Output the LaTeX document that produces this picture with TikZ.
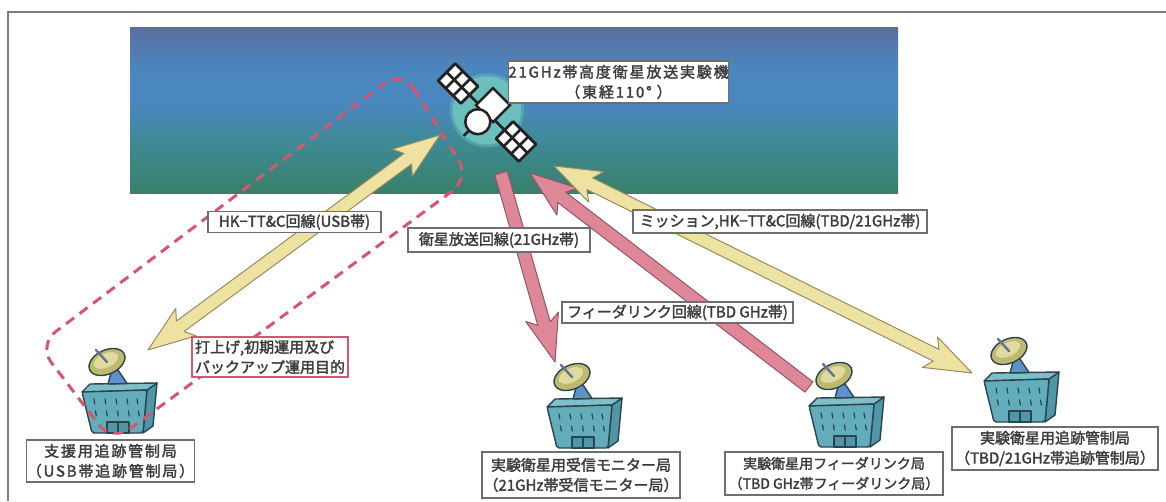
\documentclass[tikz,border=0pt]{standalone}
\usepackage{fontspec}
\setmainfont{Noto Sans CJK JP}
\newfontfamily\lblfont[FakeBold=2]{Noto Sans CJK JP}
\newfontfamily\lblfontsp[FakeBold=2,LetterSpace=12]{Noto Sans CJK JP}
\usetikzlibrary{calc}

% palette
\definecolor{skytop}{RGB}{92,110,160}
\definecolor{skyblue}{RGB}{74,135,190}
\definecolor{skyteal}{RGB}{62,138,148}
\definecolor{skybot}{RGB}{56,128,106}
\definecolor{glow}{RGB}{110,195,190}
\definecolor{yfill}{RGB}{238,226,162}
\definecolor{ydraw}{RGB}{150,140,95}
\definecolor{pfill}{RGB}{222,135,152}
\definecolor{pdraw}{RGB}{150,85,100}
\definecolor{loopred}{RGB}{214,86,114}
\definecolor{ink}{RGB}{60,60,60}
\definecolor{boxgray}{RGB}{110,110,110}
\definecolor{frameg}{RGB}{125,125,125}
\definecolor{bldg}{RGB}{98,172,188}
\definecolor{bldgside}{RGB}{80,150,168}
\definecolor{bldgroof}{RGB}{125,192,204}
\definecolor{bldgline}{RGB}{40,70,75}
\definecolor{mountc}{RGB}{95,145,205}
\definecolor{dishout}{RGB}{190,185,110}
\definecolor{dishin}{RGB}{222,218,160}
\definecolor{hornc}{RGB}{105,115,150}
\definecolor{satline}{RGB}{35,35,35}

\pgfdeclareverticalshading{skyshade}{100bp}{color(0bp)=(skybot); color(25bp)=(skybot); color(40bp)=(skyteal); color(52bp)=(skyblue); color(62bp)=(skyblue); color(75bp)=(skytop); color(100bp)=(skytop)}

% broad arrow geometry
\def\headlen{40pt}
\def\barblen{47pt}
\def\headhw{17pt}
\def\shafthw{6.5pt}

% one-headed broad arrow: style, tail, tip, prefix
\newcommand\sglarrow[4]{%
  \coordinate (#4-b) at ($(#3)!\headlen!(#2)$);
  \coordinate (#4-w) at ($(#3)!\barblen!(#2)$);
  \draw[#1] ($(#2)!\shafthw!90:(#3)$) -- ($(#4-b)!\shafthw!90:(#3)$)
    -- ($(#4-w)!\headhw!90:(#3)$) -- (#3) -- ($(#4-w)!\headhw!-90:(#3)$)
    -- ($(#4-b)!\shafthw!-90:(#3)$) -- ($(#2)!\shafthw!-90:(#3)$) -- cycle;
}
% two-headed broad arrow: style, end A, end B, prefix
\newcommand\dblarrow[4]{%
  \coordinate (#4-ba) at ($(#2)!\headlen!(#3)$);
  \coordinate (#4-wa) at ($(#2)!\barblen!(#3)$);
  \coordinate (#4-bb) at ($(#3)!\headlen!(#2)$);
  \coordinate (#4-wb) at ($(#3)!\barblen!(#2)$);
  \draw[#1] (#2) -- ($(#4-wa)!\headhw!90:(#3)$) -- ($(#4-ba)!\shafthw!90:(#3)$)
    -- ($(#4-bb)!\shafthw!-90:(#2)$) -- ($(#4-wb)!\headhw!-90:(#2)$) -- (#3)
    -- ($(#4-wb)!\headhw!90:(#2)$) -- ($(#4-bb)!\shafthw!90:(#2)$)
    -- ($(#4-ba)!\shafthw!-90:(#3)$) -- ($(#4-wa)!\headhw!-90:(#3)$) -- cycle;
}

\tikzset{
  frameline/.style={draw=frameg, line width=2pt},
  yarrow/.style={fill=yfill, draw=ydraw, line width=1pt, line join=round},
  parrow/.style={fill=pfill, draw=pdraw, line width=1pt, line join=round},
  loopline/.style={draw=loopred, line width=3pt, dash pattern=on 10pt off 7pt, rounded corners=22pt},
  lbl/.style={draw=boxgray, line width=1.2pt, fill=white, text=ink,
    font=\lblfont\fontsize{15pt}{20pt}\selectfont, inner sep=0pt, align=center},
  redlbl/.style={lbl, draw=loopred, align=left},
  outl/.style={draw=bldgline, line width=1.4pt, line join=round},
  win/.style={draw=bldgline, line width=1.2pt, line cap=round},
  station/.pic={
    % side face, roof and front face of the building
    \filldraw[outl, fill=bldgside] (29,-43) -- (39,-50) -- (35,-7) -- (25,0) -- cycle;
    \filldraw[outl, fill=bldgroof] (-36,-41) -- (-28,-49) -- (39,-50) -- (29,-43) -- cycle;
    \filldraw[outl, fill=bldg, rounded corners=2pt] (-36,-41) -- (29,-43) -- (25,0) -- (-26,0) -- cycle;
    % windows
    \foreach \wx in {-24,-13,-2,9,19} {
      \draw[win] (\wx,-34) -- (\wx+0.8,-29);
      \draw[win] (\wx+1.5,-22) -- (\wx+2.3,-17);
    }
    % entrance
    \filldraw[outl, fill=bldgside] (-11,-11) rectangle (11,0);
    \draw[win] (0,-11) -- (0,0);
    % dish mount and reflector
    \filldraw[outl, fill=mountc] (-10,-49) -- (-6,-64) -- (0,-63) -- (9,-49.5) -- cycle;
    \filldraw[outl, fill=dishout] (-11,-71) ellipse [x radius=19, y radius=12, rotate=25];
    \fill[dishin] (-12,-72.5) ellipse [x radius=13, y radius=7, rotate=25];
    \draw[draw=hornc, line width=2.4pt, line cap=round] (-11,-71) -- (-22,-83);
  }
}

\begin{document}
\begin{tikzpicture}[x=1pt,y=-1pt]
\useasboundingbox (0,0) rectangle (1166,501);
\fill[white] (0,0) rectangle (1166,501);
\draw[frameline] (8,501) -- (8,12) -- (1166,12);

% sky
\shade[shading=skyshade] (130,27) rectangle (898,193);

% satellite with its glow
\coordinate (sat) at (487,112.5);
\fill[glow, opacity=0.45] (sat) ++(0,-2) circle (37);
\fill[glow, opacity=0.9] (sat) ++(0,-2) circle (34);
\begin{scope}[shift={(sat)}, rotate=-45]
  \draw[satline, line width=2.5pt] (-41,0) -- (41,0);
  \foreach \c in {-41,41} {
    \fill[satline, rounded corners=1.5pt] (\c-17.5,-13.5) rectangle (\c+17.5,13.5);
    \foreach \i in {0,1,2} \foreach \j in {0,1}
      \fill[white] ({\c-17.5+3+\i*10.67},{-13.5+3+\j*12}) rectangle ++(7.67,9);
  }
  \filldraw[fill=white, draw=satline, line width=2.5pt] (-13,-21.5) rectangle (11,2.5);
  \filldraw[fill=white, draw=satline, line width=2.5pt] (0,13) circle (12.5);
  \draw[satline, line width=2.5pt] (0,25.5) -- (0,33);
\end{scope}

% link end points
\coordinate (hkG) at (148,350);
\coordinate (hkS) at (440,135);
\coordinate (bcS) at (501,173);
\coordinate (bcG) at (555,362);
\coordinate (fdG) at (809,387);
\coordinate (fdS) at (530,173);
\coordinate (msS) at (554,166);
\coordinate (msG) at (972,373);

% links
\dblarrow{yarrow}{hkG}{hkS}{hk}
\sglarrow{parrow}{bcS}{bcG}{bc}
\sglarrow{parrow}{fdG}{fdS}{fd}
\dblarrow{yarrow}{msS}{msG}{ms}

% ground stations
\pic (stSup) at (118,433) {station};
\pic (stMon) at (583,448) {station};
\pic (stFd) at (845,447) {station};
\pic (stTrk) at (1020,422) {station};

% launch / backup grouping
\draw[loopline] (402,70) -- (470,178) -- (112,442) -- (38,345) -- cycle;

% labels
\node[lbl, font=\lblfontsp\fontsize{15pt}{20pt}\selectfont, minimum width=217pt, minimum height=42pt] (satlbl) at (618.5,82)
  {21GHz帯高度衛星放送実験機\\（東経110°\,\,）};
\node[lbl, minimum width=173pt, minimum height=21pt] (hklbl) at (294.5,222) {HK−TT\&C回線(USB帯)};
\node[lbl, minimum width=182pt, minimum height=24pt] (bclbl) at (499,240) {衛星放送回線(21GHz帯)};
\node[lbl, minimum width=294pt, minimum height=23pt] (mslbl) at (780,221.5) {ミッション,HK−TT\&C回線(TBD/21GHz帯)};
\node[lbl, minimum width=231pt, minimum height=21pt] (fdlbl) at (677.5,312.5) {フィーダリンク回線(TBD GHz帯)};
\node[redlbl, minimum width=156pt, minimum height=40pt] (purplbl) at (270,357) {打上げ,初期運用及び\\バックアップ運用目的};
\node[lbl, font=\lblfontsp\fontsize{15pt}{20pt}\selectfont, minimum width=155pt, minimum height=42pt] (suplbl) at (110.5,461) {支援用追跡管制局\\（USB帯追跡管制局）};
\node[lbl, minimum width=198pt, minimum height=46pt] (monlbl) at (581,475) {実験衛星用受信モニター局\\（21GHz帯受信モニター局）};
\node[lbl, font=\lblfont\fontsize{14pt}{20pt}\selectfont, minimum width=218pt, minimum height=43pt] (fdstlbl) at (834,473.5) {実験衛星用フィーダリンク局\\（TBD GHz帯フィーダリンク局）};
\node[lbl, minimum width=206pt, minimum height=43pt] (trklbl) at (1055,448.5) {実験衛星用追跡管制局\\（TBD/21GHz帯追跡管制局）};
\end{tikzpicture}
\end{document}
